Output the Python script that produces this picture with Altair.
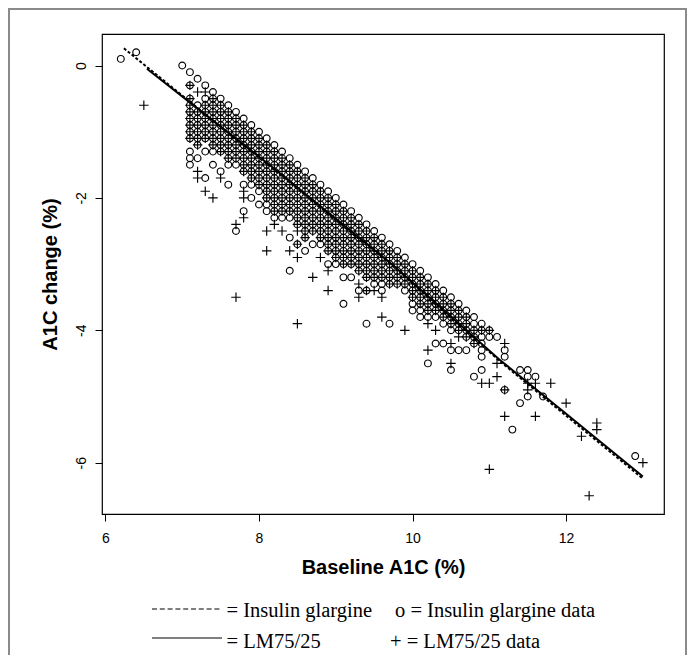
import altair as alt
import pandas as pd

# ---------------- data ----------------
X_DOMAIN = [5.955, 13.275]
Y_DOMAIN = [-6.775, 0.476]
X_TICKS = [6, 8, 10, 12]
Y_TICKS = [0, -2, -4, -6]

# Insulin glargine data ("o"): baseline A1C (tenths of %) -> A1C changes (tenths of %)
GLARGINE_COLS = {
    62: [1], 64: [2], 70: [0],
    71: [-1, -3, -5, -6, -7, -8, -9, -10, -11, -13, -14, -15],
    72: [-2, -6, -7, -8, -9, -10, -11, -12, -14],
    73: [-3, -5, -6, -7, -8, -9, -10, -11, -13, -17],
    74: [-4, -5, -6, -7, -8, -9, -10, -11, -12, -13, -15],
    75: [-5, -6, -7, -8, -9, -10, -11, -12, -13, -16],
    76: [-6, -7, -8, -9, -10, -11, -12, -13, -14, -15, -18],
    77: [-7, -8, -9, -10, -11, -12, -13, -14, -15, -25],
    78: [-8, -9, -10, -11, -12, -13, -14, -15, -16, -18, -22],
    79: [-9, -10, -11, -12, -13, -14, -15, -16, -17, -18, -20],
    80: [-10, -11, -12, -13, -14, -15, -16, -17, -18, -19, -21],
    81: [-11, -12, -13, -14, -15, -16, -17, -18, -19, -20, -21, -22],
    82: [-12, -13, -14, -15, -16, -17, -18, -19, -20, -21, -22, -23],
    83: [-13, -14, -15, -16, -17, -18, -19, -20, -21, -22, -23],
    84: [-14, -15, -16, -17, -18, -19, -20, -21, -22, -23, -26, -31],
    85: [-15, -16, -17, -18, -19, -20, -21, -22, -23, -24, -27],
    86: [-16, -17, -18, -19, -20, -21, -22, -23, -24, -25, -26, -28],
    87: [-17, -18, -19, -20, -21, -22, -23, -24, -25, -27],
    88: [-18, -19, -20, -21, -22, -23, -24, -25, -26, -27],
    89: [-19, -20, -21, -22, -23, -24, -25, -26, -27, -28, -30],
    90: [-20, -21, -22, -23, -24, -25, -26, -27, -28, -29, -30],
    91: [-21, -22, -23, -24, -25, -26, -27, -28, -29, -30, -32, -36],
    92: [-22, -23, -24, -25, -26, -27, -28, -29, -30, -32],
    93: [-23, -24, -25, -26, -27, -28, -29, -30, -31, -34],
    94: [-24, -25, -26, -27, -28, -29, -30, -31, -32, -34, -39],
    95: [-25, -26, -27, -28, -29, -30, -31, -32, -33],
    96: [-26, -27, -28, -29, -30, -31, -32, -33, -34],
    97: [-27, -28, -29, -30, -31, -32, -33, -39],
    98: [-28, -29, -30, -31, -32, -33],
    99: [-29, -30, -31, -32, -33, -34],
    100: [-30, -31, -32, -33, -34, -35, -36, -37],
    101: [-31, -32, -33, -34, -35, -36, -37, -38],
    102: [-32, -33, -34, -35, -36, -37, -38, -45],
    103: [-33, -34, -35, -36, -37, -38, -42],
    104: [-34, -35, -36, -37, -38, -39, -42],
    105: [-35, -36, -37, -38, -39, -40, -43, -46],
    106: [-36, -37, -38, -39, -40, -43],
    107: [-37, -38, -39, -40, -41, -43],
    108: [-38, -39, -40, -41, -42, -47],
    109: [-39, -40, -41, -42, -43, -44, -46],
    110: [-40, -41], 111: [-41], 112: [-43, -44, -49], 113: [-55],
    114: [-46, -51], 115: [-46, -47, -50], 116: [-47], 117: [-50], 129: [-59],
}

# LM75/25 data ("+"): baseline A1C (tenths of %) -> A1C changes (tenths of %)
LM_COLS = {
    65: [-6],
    71: [-3, -5, -6, -7, -8, -9, -10, -11],
    72: [-4, -7, -8, -9, -10, -11, -12, -16, -17],
    73: [-4, -6, -7, -8, -9, -10, -11, -19],
    74: [-5, -6, -7, -8, -9, -10, -11, -12, -20],
    75: [-6, -7, -8, -9, -10, -11, -12, -13, -17],
    76: [-7, -8, -9, -10, -11, -12, -13, -14],
    77: [-8, -9, -10, -11, -12, -13, -14, -24, -35],
    78: [-9, -10, -11, -12, -13, -14, -15, -16, -19, -20, -23],
    79: [-10, -11, -12, -13, -14, -15, -16, -17],
    80: [-11, -12, -13, -14, -15, -16, -17, -18],
    81: [-12, -13, -14, -15, -16, -17, -18, -19, -20, -25, -28],
    82: [-13, -14, -15, -16, -17, -18, -19, -20, -21, -22, -24],
    83: [-14, -15, -16, -17, -18, -19, -20, -21, -22, -25],
    84: [-15, -16, -17, -18, -19, -20, -21, -22, -28],
    85: [-16, -17, -18, -19, -20, -21, -22, -23, -24, -25, -27, -29, -39],
    86: [-17, -18, -19, -20, -21, -22, -23, -24, -25, -26],
    87: [-18, -19, -20, -21, -22, -23, -24, -25, -32],
    88: [-19, -20, -21, -22, -23, -24, -25, -26, -29],
    89: [-20, -21, -22, -23, -24, -25, -26, -27, -28, -31, -34],
    90: [-21, -22, -23, -24, -25, -26, -27, -28, -29],
    91: [-22, -23, -24, -25, -26, -27, -28, -29, -30],
    92: [-23, -24, -25, -26, -27, -28, -29, -30],
    93: [-24, -25, -26, -27, -28, -29, -30, -31, -33, -35],
    94: [-25, -26, -27, -28, -29, -30, -31, -32, -34],
    95: [-26, -27, -28, -29, -30, -31, -32, -34],
    96: [-27, -28, -29, -30, -31, -32, -35, -38],
    97: [-28, -29, -30, -31, -32, -33],
    98: [-29, -30, -31, -32, -33],
    99: [-30, -31, -32, -33, -40],
    100: [-31, -32, -33, -34, -35],
    101: [-32, -33, -34, -35, -36],
    102: [-33, -34, -35, -36, -37, -39, -43],
    103: [-34, -35, -36, -37, -40],
    104: [-35, -36, -37, -38],
    105: [-36, -37, -38, -39, -42, -45],
    106: [-37, -38, -39, -40, -41],
    107: [-38, -39, -40, -41],
    108: [-40, -41, -42],
    109: [-40, -48],
    110: [-40, -48, -61],
    111: [-45, -47],
    112: [-42, -49, -53],
    115: [-48, -49],
    116: [-48, -53],
    118: [-48], 120: [-51], 122: [-56], 123: [-65],
    124: [-54, -55], 130: [-60],
}

# fitted curves
GLARGINE_LINE_X = [6.24, 8.2, 9.75, 11.13, 12.0, 13.0]
GLARGINE_LINE_Y = [0.26, -1.58, -3.04, -4.46, -5.29, -6.24]
LM_LINE_X = [6.54, 8.2, 9.75, 11.13, 12.0, 13.0]
LM_LINE_Y = [-0.05, -1.56, -3.02, -4.44, -5.26, -6.21]

LEGEND_TEXTS = ["= Insulin glargine", "o = Insulin glargine data",
                "= LM75/25", "+ = LM75/25 data"]
X_TITLE = "Baseline A1C (%)"
Y_TITLE = "A1C change (%)"


def expand(cols):
    rows = []
    for bx, ys in cols.items():
        for y in ys:
            rows.append({"baseline": bx / 10.0, "change": y / 10.0})
    return pd.DataFrame(rows)


g_df = expand(GLARGINE_COLS)
l_df = expand(LM_COLS)
gl_df = pd.DataFrame({"baseline": GLARGINE_LINE_X, "change": GLARGINE_LINE_Y})
ll_df = pd.DataFrame({"baseline": LM_LINE_X, "change": LM_LINE_Y})

SANS = "Liberation Sans"
SERIF = "Liberation Serif"

x_enc = alt.X("baseline:Q", title=X_TITLE,
              scale=alt.Scale(domain=X_DOMAIN, nice=False, zero=False),
              axis=alt.Axis(values=X_TICKS, labelPadding=10, titlePadding=12,
                            labelExpr="'' + datum.value"))
y_enc = alt.Y("change:Q", title=Y_TITLE,
              scale=alt.Scale(domain=Y_DOMAIN, nice=False, zero=False),
              axis=alt.Axis(values=Y_TICKS, labelAngle=-90, labelAlign="center",
                            labelBaseline="bottom", labelPadding=7, titlePadding=14,
                            labelExpr="'' + datum.value"))

circles = alt.Chart(g_df).mark_point(shape="circle", filled=False, size=46,
                                     stroke="black", strokeWidth=1.15, opacity=1
                                     ).encode(x=x_enc, y=y_enc)
pluses = alt.Chart(l_df).mark_point(shape="M-1,0H1M0,-1V1", filled=False, size=90,
                                    stroke="black", strokeWidth=1.15, opacity=1
                                    ).encode(x=x_enc, y=y_enc)
g_line = alt.Chart(gl_df).mark_line(color="black", strokeWidth=2,
                                    strokeDash=[3, 2]).encode(x=x_enc, y=y_enc)
l_line = alt.Chart(ll_df).mark_line(color="black", strokeWidth=2
                                    ).encode(x=x_enc, y=y_enc)

one = alt.Data(values=[{}])


def txt(s, x, y):
    return alt.Chart(one).mark_text(font=SERIF, fontSize=20.5, align="left",
                                    baseline="alphabetic", color="black").encode(
        x=alt.value(x), y=alt.value(y), text=alt.value(s))


legend_layers = [
    alt.Chart(one).mark_rule(color="black", strokeWidth=1.2, strokeDash=[5, 2.8]).encode(
        x=alt.value(50), x2=alt.value(120), y=alt.value(575)),
    alt.Chart(one).mark_rule(color="black", strokeWidth=1.2).encode(
        x=alt.value(50), x2=alt.value(120), y=alt.value(604)),
    txt(LEGEND_TEXTS[0], 124.5, 583),
    txt(LEGEND_TEXTS[1], 293, 583),
    txt(LEGEND_TEXTS[2], 124.5, 614),
    txt(LEGEND_TEXTS[3], 288, 614),
]

frame = alt.Chart(one).mark_rect(filled=False, stroke="#8a8a8a", strokeWidth=2).encode(
    x=alt.value(-93), x2=alt.value(584), y=alt.value(-25), y2=alt.value(660))

chart = alt.layer(frame, circles, pluses, g_line, l_line, *legend_layers).properties(
    width=562, height=480,
    autosize=alt.AutoSizeParams(type="none"),
    padding={"left": 94, "top": 26, "right": 24, "bottom": 141},
).configure_view(stroke="black", strokeWidth=1.2).configure_axis(
    domain=False, grid=False, tickColor="black", tickSize=7, tickWidth=1,
    labelFont=SANS, labelFontSize=14, labelColor="black",
    titleFont=SANS, titleFontSize=20, titleFontWeight="bold", titleColor="black",
)

chart.save("out.html", embed_options={"renderer": "svg", "actions": False})
